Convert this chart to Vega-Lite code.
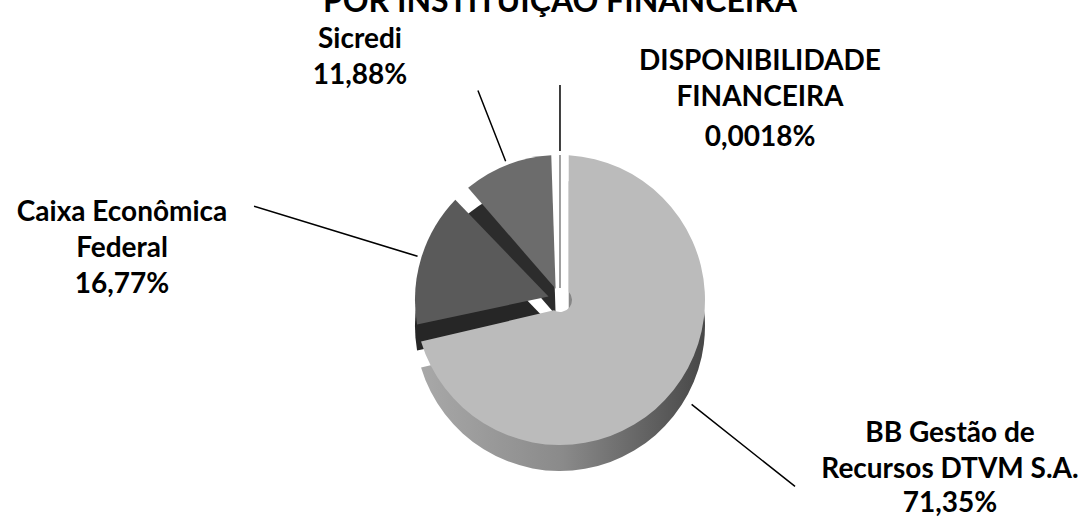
{
  "$schema": "https://vega.github.io/schema/vega-lite/v6.json",
  "width": 1056,
  "height": 444,
  "autosize": {"type": "none"},
  "padding": {"left": 32, "top": 78, "right": 0, "bottom": 0},
  "background": "white",
  "title": {
    "text": "POR INSTITUIÇÃO FINANCEIRA",
    "font": "Lato",
    "fontSize": 32,
    "fontWeight": "bold",
    "color": "black",
    "anchor": "middle",
    "frame": "group",
    "baseline": "alphabetic",
    "offset": 0,
    "dy": 18
  },
  "config": {
    "view": {"stroke": null},
    "locale": {
      "number": {"decimal": ",", "thousands": ".", "grouping": [3], "currency": ["R$ ", ""]}
    },
    "text": {"font": "Lato", "fontSize": 28, "fontWeight": "bold", "color": "black", "lineBreak": "\n", "lineHeight": 36, "baseline": "middle", "align": "center"}
  },
  "data": {
    "values": [
      {"instituicao": "BB Gestão de\nRecursos DTVM S.A.", "valor": 0.7135, "ordem": 1},
      {"instituicao": "Caixa Econômica\nFederal", "valor": 0.1677, "ordem": 2},
      {"instituicao": "Sicredi", "valor": 0.1188, "ordem": 3},
      {"instituicao": "DISPONIBILIDADE\nFINANCEIRA", "valor": 0.000018, "ordem": 4}
    ]
  },
  "transform": [
    {"stack": "valor", "groupby": [], "sort": [{"field": "ordem", "order": "ascending"}], "as": ["ini", "fim"]}
  ],
  "layer": [
    {
      "description": "lateral (espessura) das fatias",
      "mark": {"type": "arc", "radius": 145, "radius2": 12, "padAngle": 0.12, "yOffset": 26},
      "encoding": {
        "theta": {"field": "ini", "type": "quantitative", "scale": {"domain": [0, 1.000018], "nice": false, "zero": true}},
        "theta2": {"field": "fim"},
        "color": {
          "condition": {
            "test": "datum.ordem === 1",
            "value": {
              "gradient": "linear", "x1": 0, "y1": 0, "x2": 1, "y2": 0,
              "stops": [
                {"offset": 0, "color": "#a8a8a8"},
                {"offset": 0.5, "color": "#8a8a8a"},
                {"offset": 1, "color": "#474747"}
              ]
            }
          },
          "field": "instituicao",
          "type": "nominal",
          "scale": {
            "domain": ["BB Gestão de\nRecursos DTVM S.A.", "Caixa Econômica\nFederal", "Sicredi", "DISPONIBILIDADE\nFINANCEIRA"],
            "range": ["#8a8a8a", "#262626", "#2c2c2c", "#ffffff"]
          },
          "legend": null
        }
      }
    },
    {
      "description": "face superior das fatias",
      "mark": {"type": "arc", "radius": 145, "radius2": 12, "padAngle": 0.12, "strokeWidth": 1.5},
      "encoding": {
        "theta": {"field": "ini", "type": "quantitative"},
        "theta2": {"field": "fim"},
        "color": {
          "field": "instituicao",
          "type": "nominal",
          "scale": {
            "domain": ["BB Gestão de\nRecursos DTVM S.A.", "Caixa Econômica\nFederal", "Sicredi", "DISPONIBILIDADE\nFINANCEIRA"],
            "range": ["#bbbbbb", "#5a5a5a", "#6c6c6c", "#ffffff"]
          },
          "legend": null
        },
        "stroke": {"condition": {"test": "datum.ordem === 4", "value": "#808080"}, "value": "transparent"}
      }
    },
    {
      "description": "linhas de chamada e rótulos, ancorados no ângulo médio de cada fatia",
      "transform": [
        {"fold": ["ini", "fim"], "as": ["borda", "angulo"]},
        {"aggregate": [{"op": "mean", "field": "angulo", "as": "meio"}], "groupby": ["instituicao", "valor", "ordem"]}
      ],
      "layer": [
        {
          "transform": [{"filter": "datum.ordem === 1"}],
          "layer": [
            {
              "mark": {"type": "arc", "radius": 300, "radius2": 168, "fill": "transparent", "stroke": "black", "strokeWidth": 1.5},
              "encoding": {"theta": {"field": "meio", "type": "quantitative"}, "theta2": {"field": "meio"}}
            },
            {
              "mark": {"type": "text", "radius": 300, "dx": 155, "dy": -52},
              "encoding": {"theta": {"field": "meio", "type": "quantitative"}, "text": {"field": "instituicao"}}
            },
            {
              "mark": {"type": "text", "radius": 300, "dx": 155, "dy": 18},
              "encoding": {"theta": {"field": "meio", "type": "quantitative"}, "text": {"field": "valor", "type": "quantitative", "format": ".2%"}}
            }
          ]
        },
        {
          "transform": [{"filter": "datum.ordem === 2"}],
          "layer": [
            {
              "mark": {"type": "arc", "radius": 320, "radius2": 149, "fill": "transparent", "stroke": "black", "strokeWidth": 1.5},
              "encoding": {"theta": {"field": "meio", "type": "quantitative"}, "theta2": {"field": "meio"}}
            },
            {
              "mark": {"type": "text", "radius": 320, "dx": -132, "dy": 7},
              "encoding": {"theta": {"field": "meio", "type": "quantitative"}, "text": {"field": "instituicao"}}
            },
            {
              "mark": {"type": "text", "radius": 320, "dx": -132, "dy": 79},
              "encoding": {"theta": {"field": "meio", "type": "quantitative"}, "text": {"field": "valor", "type": "quantitative", "format": ".2%"}}
            }
          ]
        },
        {
          "transform": [{"filter": "datum.ordem === 3"}],
          "layer": [
            {
              "mark": {"type": "arc", "radius": 225, "radius2": 149, "fill": "transparent", "stroke": "black", "strokeWidth": 1.5},
              "encoding": {"theta": {"field": "meio", "type": "quantitative"}, "theta2": {"field": "meio"}}
            },
            {
              "mark": {"type": "text", "radius": 225, "dx": -118, "dy": -50},
              "encoding": {"theta": {"field": "meio", "type": "quantitative"}, "text": {"field": "instituicao"}}
            },
            {
              "mark": {"type": "text", "radius": 225, "dx": -118, "dy": -14},
              "encoding": {"theta": {"field": "meio", "type": "quantitative"}, "text": {"field": "valor", "type": "quantitative", "format": ".2%"}}
            }
          ]
        },
        {
          "transform": [{"filter": "datum.ordem === 4"}],
          "layer": [
            {
              "mark": {"type": "arc", "radius": 215, "radius2": 149, "fill": "transparent", "stroke": "black", "strokeWidth": 1.5},
              "encoding": {"theta": {"field": "meio", "type": "quantitative"}, "theta2": {"field": "meio"}}
            },
            {
              "mark": {"type": "text", "radius": 215, "dx": 200, "dy": -23},
              "encoding": {"theta": {"field": "meio", "type": "quantitative"}, "text": {"field": "instituicao"}}
            },
            {
              "mark": {"type": "text", "radius": 215, "dx": 200, "dy": 53},
              "encoding": {"theta": {"field": "meio", "type": "quantitative"}, "text": {"field": "valor", "type": "quantitative", "format": ".4%"}}
            }
          ]
        }
      ]
    }
  ],
  "resolve": {"scale": {"color": "independent"}}
}
